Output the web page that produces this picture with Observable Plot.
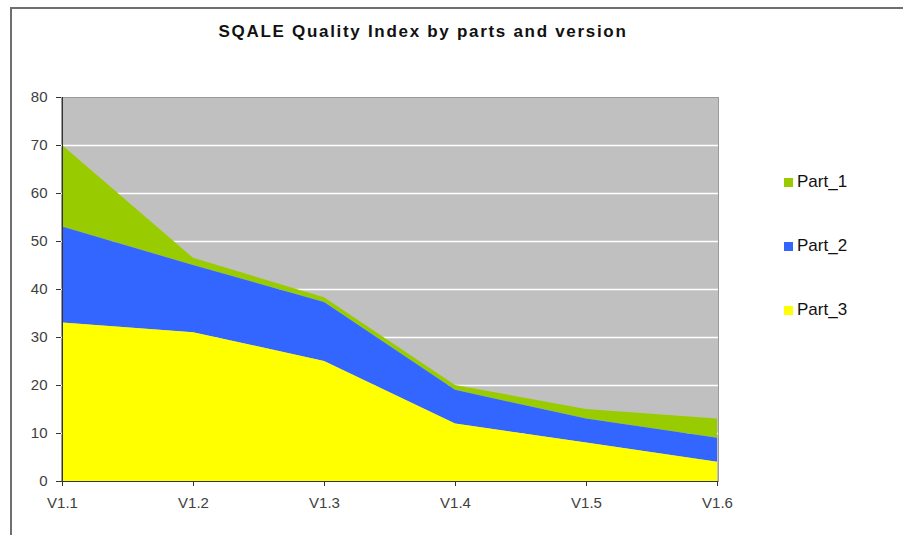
<!DOCTYPE html>
<html>
<head>
<meta charset="utf-8">
<script src="https://cdn.jsdelivr.net/npm/d3@7"></script>
<script src="https://cdn.jsdelivr.net/npm/@observablehq/plot@0.6"></script>
<style>
  html, body { margin: 0; padding: 0; background: #fff; }
  #wrap { position: relative; width: 903px; height: 535px; overflow: hidden; font-family: "Liberation Sans", Arial, sans-serif; }
  #border { position: absolute; left: 10px; top: 7px; width: 1000px; height: 600px; border-left: 2px solid #6f6f6f; border-top: 2px solid #6f6f6f; box-sizing: border-box; }
  #title { position: absolute; left: 0; width: 846px; top: 22px; text-align: center; font-weight: bold; font-size: 17px; color: #111; letter-spacing: 1.7px; }
  #chart { position: absolute; left: 0; top: 0; }
  #legend { position: absolute; left: 784px; top: 172px; font-size: 17px; color: #111; }
  .item { position: relative; height: 64px; }
  .sw { position: absolute; left: 0; top: 6px; width: 9px; height: 9px; }
  .lab { position: absolute; left: 13px; top: 0; }
</style>
</head>
<body>
<div id="wrap">
  <div id="border"></div>
  <div id="chart"></div>
  <div id="title">SQALE Quality Index by parts and version</div>
  <div id="legend"></div>
</div>
<script>
const versions = ["V1.1", "V1.2", "V1.3", "V1.4", "V1.5", "V1.6"];
const seriesNames = ["Part_1", "Part_2", "Part_3"];
const part1 = [17, 1.5, 1, 1, 2, 4];
const part2 = [20, 14, 12.3, 7, 5, 5];
const part3 = [33, 31, 25, 12, 8, 4];
const yTicks = [0, 10, 20, 30, 40, 50, 60, 70, 80];
const colors = ["#99cc00", "#3366ff", "#ffff00"];

const seriesValues = [part1, part2, part3];
const data = [];
seriesNames.forEach((s, i) => {
  versions.forEach((v, j) => data.push({version: v, series: s, value: seriesValues[i][j]}));
});

const chart = Plot.plot({
  width: 903,
  height: 535,
  marginLeft: 61,
  marginRight: 185,
  marginTop: 97,
  marginBottom: 54,
  style: {background: "transparent", fontFamily: "Liberation Sans, Arial, sans-serif", fontSize: "15px", color: "#404040"},
  x: {type: "point", domain: versions, padding: 0, axis: null},
  y: {domain: [0, 80], axis: null},
  color: {domain: seriesNames, range: colors},
  marks: [
    Plot.frame({fill: "#c0c0c0", stroke: "#9a9a9a"}),
    Plot.ruleY(yTicks.filter(d => d > 0 && d < 80), {stroke: "#ffffff", strokeWidth: 1.5}),
    Plot.areaY(data, Plot.stackY({order: ["Part_3", "Part_2", "Part_1"]}, {x: "version", y: "value", z: "series", fill: "series", curve: "linear"})),
    Plot.ruleX([versions[0]], {y1: 0, y2: 80, stroke: "#333", strokeWidth: 1}),
    Plot.ruleY([0], {stroke: "#333", strokeWidth: 1}),
    Plot.axisY({ticks: yTicks, tickSize: 5, tickPadding: 9, stroke: "#333", fill: "#404040", fontSize: 15, label: null}),
    Plot.axisX({ticks: versions, tickSize: 5, tickPadding: 11, stroke: "#333", fill: "#404040", fontSize: 15, label: null})
  ]
});
document.getElementById("chart").appendChild(chart);

const legend = document.getElementById("legend");
seriesNames.forEach((s, i) => {
  const it = document.createElement("div");
  it.className = "item";
  it.innerHTML = `<div class="sw" style="background:${colors[i]}"></div><div class="lab">${s}</div>`;
  legend.appendChild(it);
});
</script>
</body>
</html>
